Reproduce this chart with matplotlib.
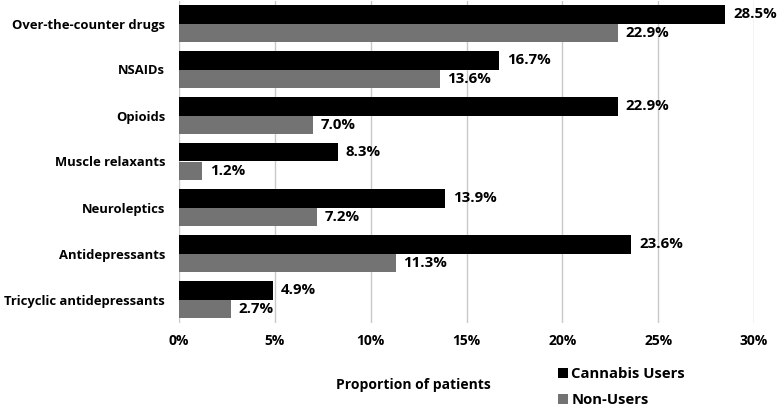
import matplotlib
matplotlib.use("Agg")
import matplotlib.pyplot as plt
import numpy as np

categories = ["Over-the-counter drugs", "NSAIDs", "Opioids", "Muscle relaxants",
              "Neuroleptics", "Antidepressants", "Tricyclic antidepressants"]
cannabis = [28.5, 16.7, 22.9, 8.3, 13.9, 23.6, 4.9]
non_users = [22.9, 13.6, 7.0, 1.2, 7.2, 11.3, 2.7]
xticks = [0, 5, 10, 15, 20, 25, 30]

plt.rcParams['font.family'] = ['Open Sans', 'DejaVu Sans']
plt.rcParams['font.weight'] = 'bold'

W, H = 777, 409
fig = plt.figure(figsize=(W/100, H/100), dpi=100)
ax = fig.add_axes([179/W, 1-322.5/H, (754-179)/W, 322/H])

y = np.arange(len(categories))
h = 0.4
ax.barh(y - h/2, cannabis, height=h, color="#000000", label="Cannabis Users", zorder=3)
ax.barh(y + h/2, non_users, height=h, color="#737373", label="Non-Users", zorder=3)

for yi, v in zip(y, cannabis):
    ax.text(v + 0.4, yi - h/2, f"{v:.1f}%", va="center", ha="left", fontsize=10.8, fontweight="bold", color="black")
for yi, v in zip(y, non_users):
    ax.text(v + 0.4, yi + h/2, f"{v:.1f}%", va="center", ha="left", fontsize=10.8, fontweight="bold", color="black")

ax.set_ylim(len(categories) - 0.5, -0.5)
ax.set_xlim(0, 30)
ax.set_xticks(xticks)
ax.set_xticklabels([f"{t}%" for t in xticks], fontsize=10, fontweight="bold")
ax.set_yticks(y)
ax.set_yticklabels(categories, fontsize=9.4, fontweight="bold")
ax.tick_params(axis="both", length=0)
ax.tick_params(axis="x", pad=8)
ax.tick_params(axis="y", pad=10)
ax.grid(axis="x", color="#c8c8c8", linewidth=1, zorder=0)
for s in ax.spines.values():
    s.set_visible(False)

fig.text(413/W, 1-385/H, "Proportion of patients", ha="center", va="center", fontsize=10, fontweight="bold")
fig.legend(loc="upper left", bbox_to_anchor=(558/W, 1-367/H), frameon=False,
           handlelength=0.65, handleheight=0.65, handletextpad=0.25, labelspacing=0.8,
           borderaxespad=0, borderpad=0, prop={'weight': 'bold', 'size': 10.7})

fig.savefig("out.png", dpi=100)
